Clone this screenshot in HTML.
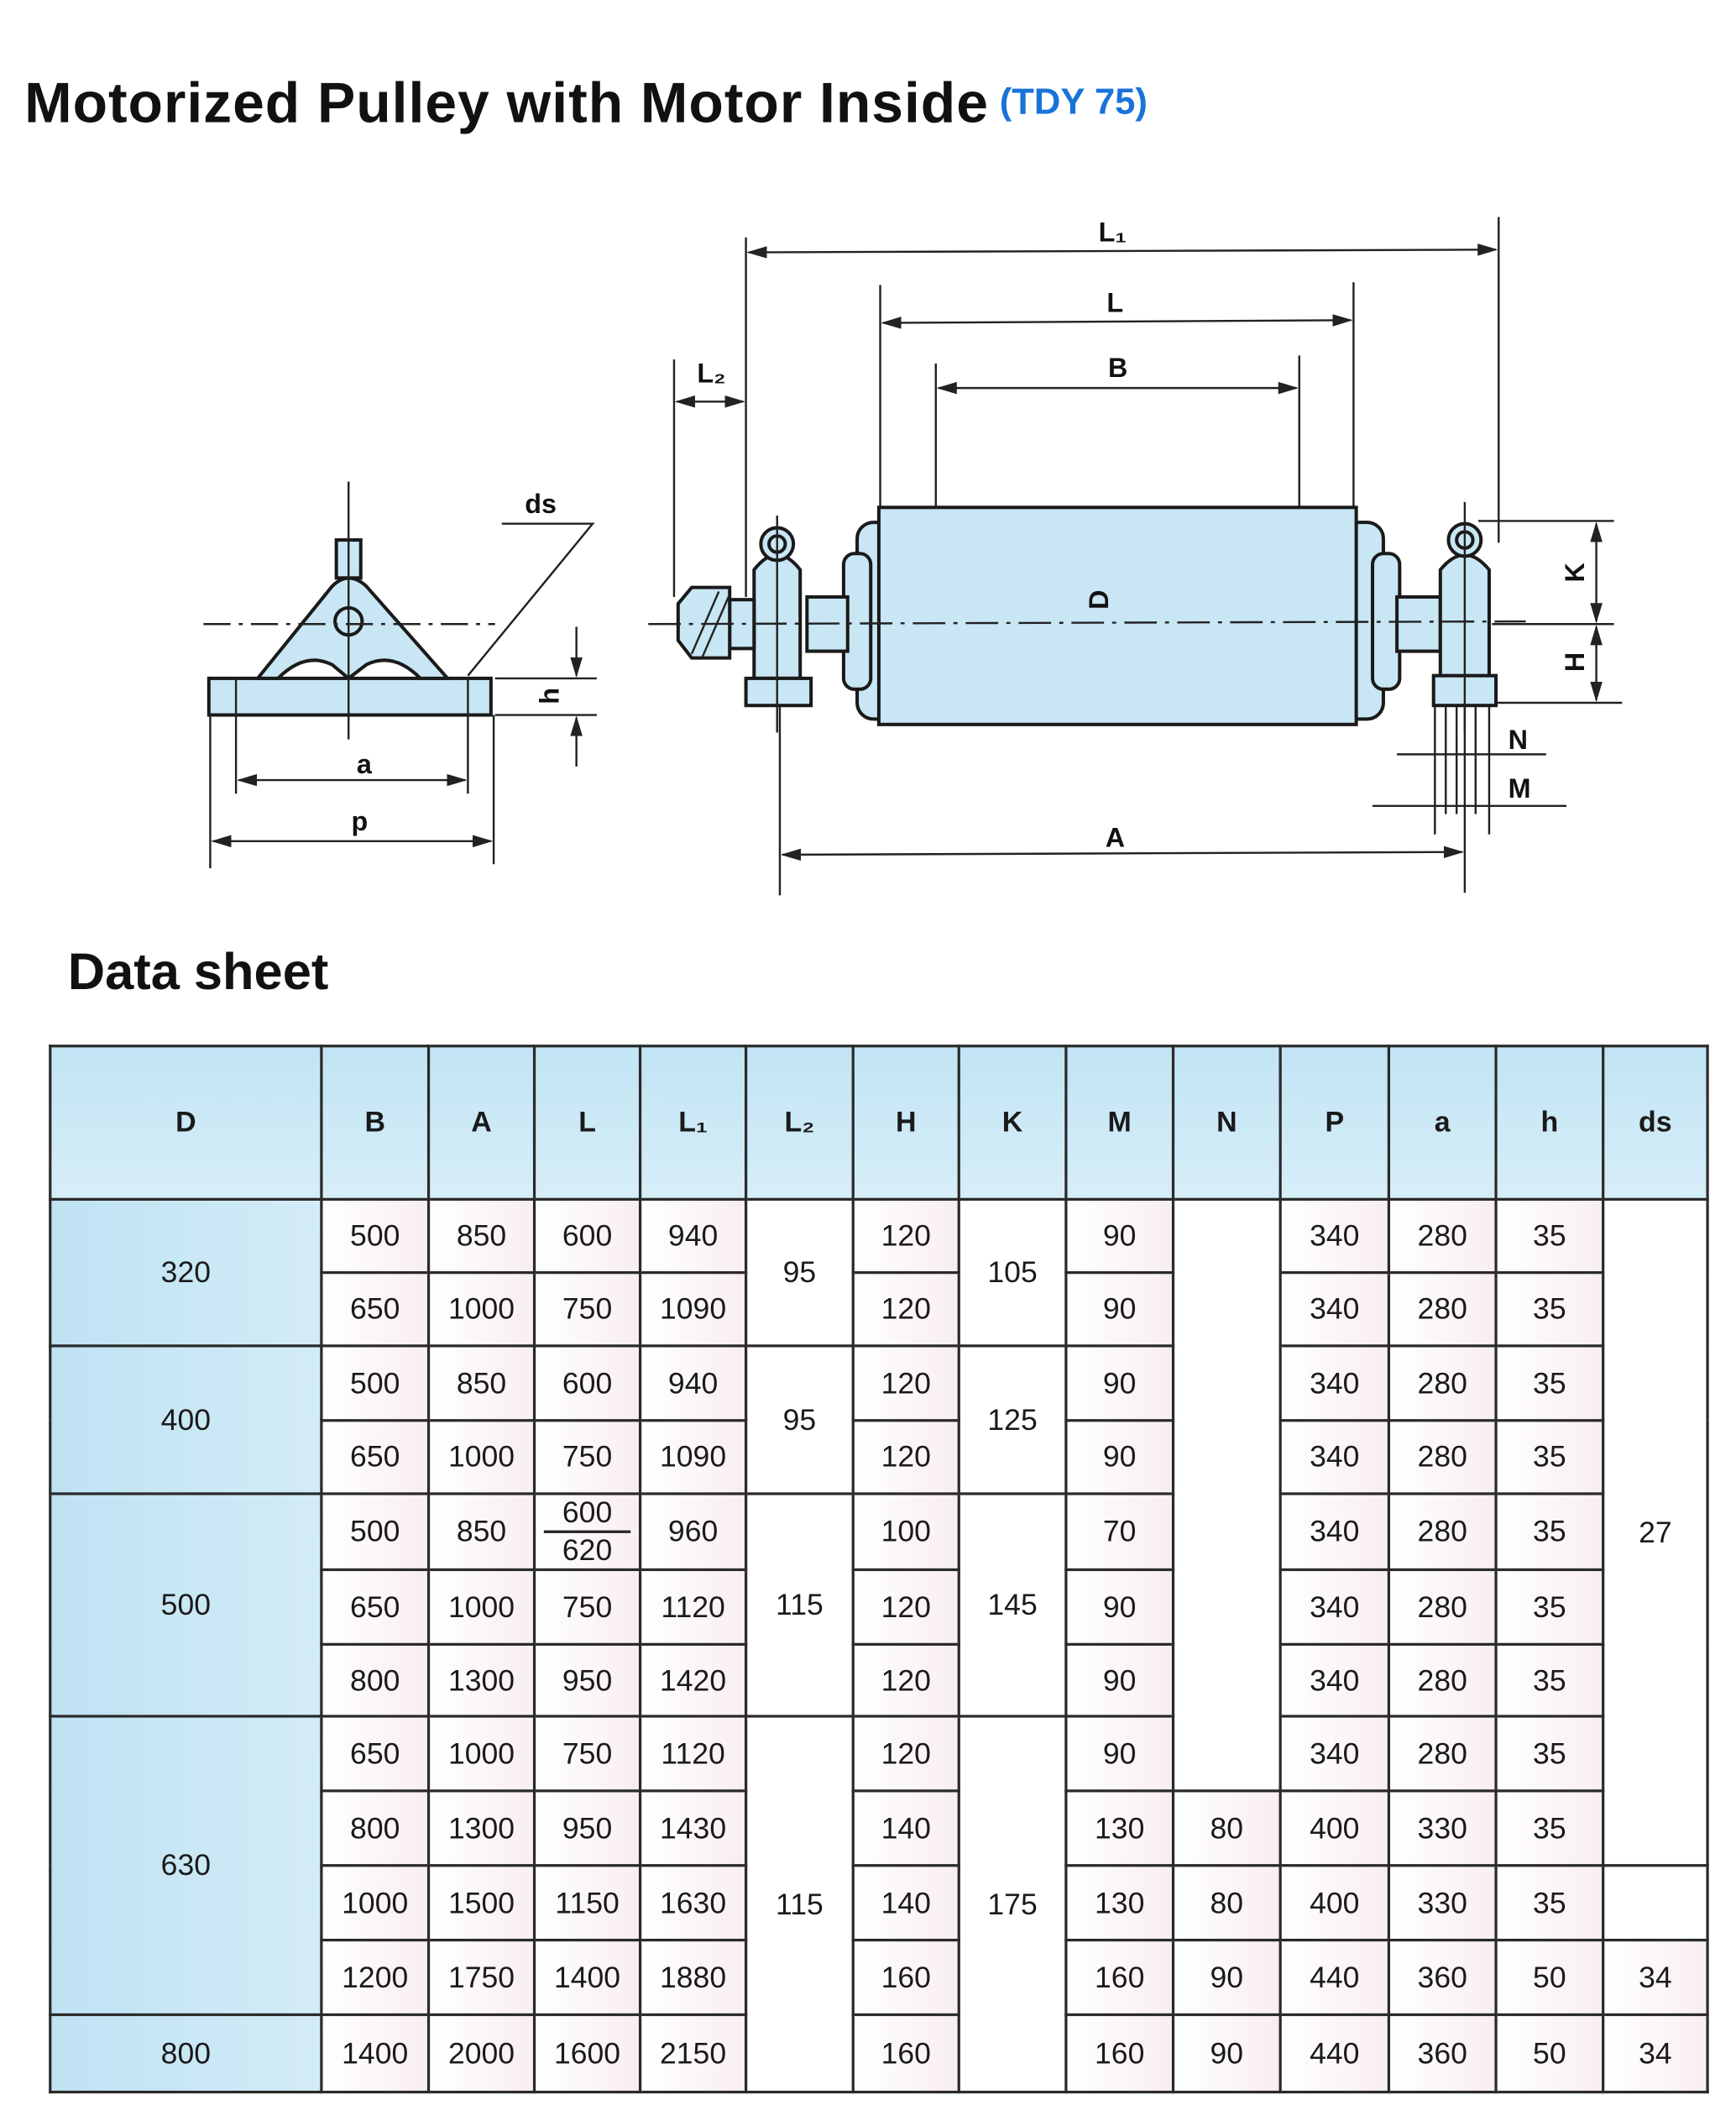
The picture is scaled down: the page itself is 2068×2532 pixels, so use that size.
<!DOCTYPE html>
<html><head><meta charset="utf-8"><style>
html,body{margin:0;padding:0;background:#fff;}
#wrap{position:relative;width:1280px;height:1567px;transform:scale(1.615625,1.6158);transform-origin:0 0;font-family:"Liberation Sans",sans-serif;}
.t{position:absolute;white-space:nowrap;}
table{position:absolute;left:36px;top:770px;width:1222px;border-collapse:collapse;table-layout:fixed;}
td{border:2px solid #2a2a2a;text-align:center;font-size:22px;color:#1a1a1a;padding:0;background:linear-gradient(90deg,#fff,#f8eef3);}
tr.hd td{background:linear-gradient(180deg,#c2e4f4,#d6eef8);height:111px;font-size:21px;font-weight:bold;}
td.d{background:linear-gradient(90deg,#bfe2f3,#d3ecf7);}
td.w{background:#fff;}
</style></head><body><div id="wrap">
<div class="t" style="left:18px;top:52px;font-size:42px;letter-spacing:0.6px;font-weight:bold;color:#111;">Motorized Pulley with Motor Inside</div>
<div class="t" style="left:737px;top:60px;font-size:27px;font-weight:bold;color:#1a73d9;">(TDY 75)</div>
<div class="t" style="left:50px;top:696px;font-size:38px;font-weight:bold;color:#111;">Data sheet</div>

<svg width="1280" height="700" style="position:absolute;left:0;top:0" font-family="Liberation Sans" font-size="20" font-weight="bold">
<defs><marker id="ar" markerWidth="10" markerHeight="8" refX="9" refY="4" orient="auto-start-reverse"><path d="M0,1 L10,4 L0,7z" fill="#222"/></marker></defs>
<g stroke="#222" stroke-width="1.5" fill="none">
<line x1="550" y1="175" x2="550" y2="440"/><line x1="1105" y1="160" x2="1105" y2="400"/>
<line x1="552" y1="186" x2="1103" y2="184" marker-start="url(#ar)" marker-end="url(#ar)"/>
<line x1="649" y1="210" x2="649" y2="375"/><line x1="998" y1="208" x2="998" y2="375"/>
<line x1="651" y1="238" x2="996" y2="236" marker-start="url(#ar)" marker-end="url(#ar)"/>
<line x1="690" y1="268" x2="690" y2="375"/><line x1="958" y1="262" x2="958" y2="375"/>
<line x1="692" y1="286" x2="956" y2="286" marker-start="url(#ar)" marker-end="url(#ar)"/>
<line x1="497" y1="265" x2="497" y2="440"/>
<line x1="499" y1="296" x2="548" y2="296" marker-start="url(#ar)" marker-end="url(#ar)"/>
<line x1="575" y1="520" x2="575" y2="660"/><line x1="1080" y1="520" x2="1080" y2="658"/>
<line x1="577" y1="630" x2="1078" y2="628" marker-start="url(#ar)" marker-end="url(#ar)"/>
<line x1="822" y1="379" x2="822" y2="531" marker-start="url(#ar)" marker-end="url(#ar)"/>
<line x1="1090" y1="384" x2="1190" y2="384"/><line x1="1100" y1="460" x2="1190" y2="460"/><line x1="1100" y1="518" x2="1196" y2="518"/>
<line x1="1177" y1="386" x2="1177" y2="458" marker-start="url(#ar)" marker-end="url(#ar)"/>
<line x1="1177" y1="462" x2="1177" y2="516" marker-start="url(#ar)" marker-end="url(#ar)"/>
<line x1="1058" y1="520" x2="1058" y2="615"/><line x1="1066" y1="520" x2="1066" y2="600"/><line x1="1074" y1="520" x2="1074" y2="600"/><line x1="1088" y1="520" x2="1088" y2="600"/><line x1="1098" y1="520" x2="1098" y2="615"/>
<line x1="1030" y1="556" x2="1140" y2="556"/><line x1="1012" y1="594" x2="1155" y2="594"/>
</g>
<g stroke="#1a1a1a" stroke-width="2.5" fill="#c8e6f4">
<rect x="632" y="385" width="30" height="145" rx="12"/>
<rect x="990" y="385" width="30" height="145" rx="12"/>
<rect x="622" y="408" width="20" height="100" rx="8"/>
<rect x="1012" y="408" width="20" height="100" rx="8"/>
<rect x="648" y="374" width="352" height="160"/>
<rect x="595" y="440" width="30" height="40"/>
<path d="M556,500 L556,420 Q573,398 590,420 L590,500 Z"/>
<rect x="550" y="500" width="48" height="20"/>
<circle cx="573" cy="401" r="12"/><circle cx="573" cy="401" r="6"/>
<rect x="538" y="442" width="18" height="36"/>
<path d="M500,445 L510,433 L538,433 L538,485 L510,485 L500,472Z"/>
<rect x="1030" y="440" width="32" height="40"/>
<path d="M1062,500 L1062,420 Q1080,398 1098,420 L1098,500 Z"/>
<rect x="1057" y="498" width="46" height="22"/>
<circle cx="1080" cy="398" r="12"/><circle cx="1080" cy="398" r="6"/>
<rect x="154" y="500" width="208" height="27"/>
<path d="M190,500 L245,432 Q257,420 270,432 L330,500 L310,500 Q290,480 270,490 L257,500 L245,490 Q225,480 205,500Z"/>
<rect x="248" y="398" width="18" height="28"/>
<circle cx="257" cy="458" r="10"/>
</g>
<g stroke="#222" stroke-width="1.5" fill="none">
<line x1="478" y1="460" x2="1125" y2="458" stroke-dasharray="24,6,3,6"/>
<line x1="150" y1="460" x2="365" y2="460" stroke-dasharray="20,6,3,6"/>
<line x1="257" y1="355" x2="257" y2="545"/>
<line x1="510" y1="482" x2="530" y2="436"/><line x1="518" y1="484" x2="538" y2="438"/>
<line x1="573" y1="380" x2="573" y2="540"/><line x1="1080" y1="370" x2="1080" y2="540"/>
<line x1="174" y1="500" x2="174" y2="585"/><line x1="345" y1="500" x2="345" y2="585"/>
<line x1="155" y1="527" x2="155" y2="640"/><line x1="364" y1="527" x2="364" y2="637"/>
<line x1="176" y1="575" x2="343" y2="575" marker-start="url(#ar)" marker-end="url(#ar)"/>
<line x1="157" y1="620" x2="362" y2="620" marker-start="url(#ar)" marker-end="url(#ar)"/>
<line x1="365" y1="500" x2="440" y2="500"/><line x1="365" y1="527" x2="440" y2="527"/>
<line x1="425" y1="462" x2="425" y2="498" marker-end="url(#ar)"/><line x1="425" y1="565" x2="425" y2="529" marker-end="url(#ar)"/>
<polyline points="370,386 437,386 345,498"/>
</g>
<g fill="#111">
<text x="810" y="178">L₁</text><text x="816" y="230">L</text><text x="817" y="278">B</text>
<text x="514" y="282">L₂</text><text x="815" y="624">A</text>
<text x="1112" y="552">N</text><text x="1112" y="588">M</text>
<text x="387" y="378">ds</text><text x="263" y="570">a</text><text x="259" y="612">p</text>
<text transform="translate(817,442) rotate(-90)" text-anchor="middle">D</text>
<text transform="translate(1168,422) rotate(-90)" text-anchor="middle">K</text>
<text transform="translate(1168,488) rotate(-90)" text-anchor="middle">H</text>
<text transform="translate(412,513) rotate(-90)" text-anchor="middle">h</text>
</g>
</svg>

<table>
<colgroup><col style="width:200px"><col style="width:79px"><col style="width:78px"><col style="width:78px"><col style="width:78px"><col style="width:79px"><col style="width:78px"><col style="width:79px"><col style="width:79px"><col style="width:79px"><col style="width:80px"><col style="width:79px"><col style="width:79px"><col style="width:77px"></colgroup>
<tr class="hd"><td>D</td><td>B</td><td>A</td><td>L</td><td>L₁</td><td>L₂</td><td>H</td><td>K</td><td>M</td><td>N</td><td>P</td><td>a</td><td>h</td><td>ds</td></tr>
<tr style="height:54px"><td class="d" rowspan="2">320</td><td>500</td><td>850</td><td>600</td><td>940</td><td class="w" rowspan="2">95</td><td>120</td><td class="w" rowspan="2">105</td><td>90</td><td class="w" rowspan="8"></td><td>340</td><td>280</td><td>35</td><td class="w" rowspan="9">27</td></tr>
<tr style="height:54px"><td>650</td><td>1000</td><td>750</td><td>1090</td><td>120</td><td>90</td><td>340</td><td>280</td><td>35</td></tr>
<tr style="height:55px"><td class="d" rowspan="2">400</td><td>500</td><td>850</td><td>600</td><td>940</td><td class="w" rowspan="2">95</td><td>120</td><td class="w" rowspan="2">125</td><td>90</td><td>340</td><td>280</td><td>35</td></tr>
<tr style="height:54px"><td>650</td><td>1000</td><td>750</td><td>1090</td><td>120</td><td>90</td><td>340</td><td>280</td><td>35</td></tr>
<tr style="height:55px"><td class="d" rowspan="3">500</td><td>500</td><td>850</td><td style="line-height:26px">600<div style="border-top:2px solid #222;margin:0 6px">620</div></td><td>960</td><td class="w" rowspan="3">115</td><td>100</td><td class="w" rowspan="3">145</td><td>70</td><td>340</td><td>280</td><td>35</td></tr>
<tr style="height:55px"><td>650</td><td>1000</td><td>750</td><td>1120</td><td>120</td><td>90</td><td>340</td><td>280</td><td>35</td></tr>
<tr style="height:53px"><td>800</td><td>1300</td><td>950</td><td>1420</td><td>120</td><td>90</td><td>340</td><td>280</td><td>35</td></tr>
<tr style="height:55px"><td class="d" rowspan="4">630</td><td>650</td><td>1000</td><td>750</td><td>1120</td><td class="w" rowspan="5">115</td><td>120</td><td class="w" rowspan="5">175</td><td>90</td><td>340</td><td>280</td><td>35</td></tr>
<tr style="height:55px"><td>800</td><td>1300</td><td>950</td><td>1430</td><td>140</td><td>130</td><td>80</td><td>400</td><td>330</td><td>35</td></tr>
<tr style="height:55px"><td>1000</td><td>1500</td><td>1150</td><td>1630</td><td>140</td><td>130</td><td>80</td><td>400</td><td>330</td><td>35</td><td class="w"></td></tr>
<tr style="height:55px"><td>1200</td><td>1750</td><td>1400</td><td>1880</td><td>160</td><td>160</td><td>90</td><td>440</td><td>360</td><td>50</td><td>34</td></tr>
<tr style="height:57px"><td class="d">800</td><td>1400</td><td>2000</td><td>1600</td><td>2150</td><td>160</td><td>160</td><td>90</td><td>440</td><td>360</td><td>50</td><td>34</td></tr>
</table>
</div></body></html>
